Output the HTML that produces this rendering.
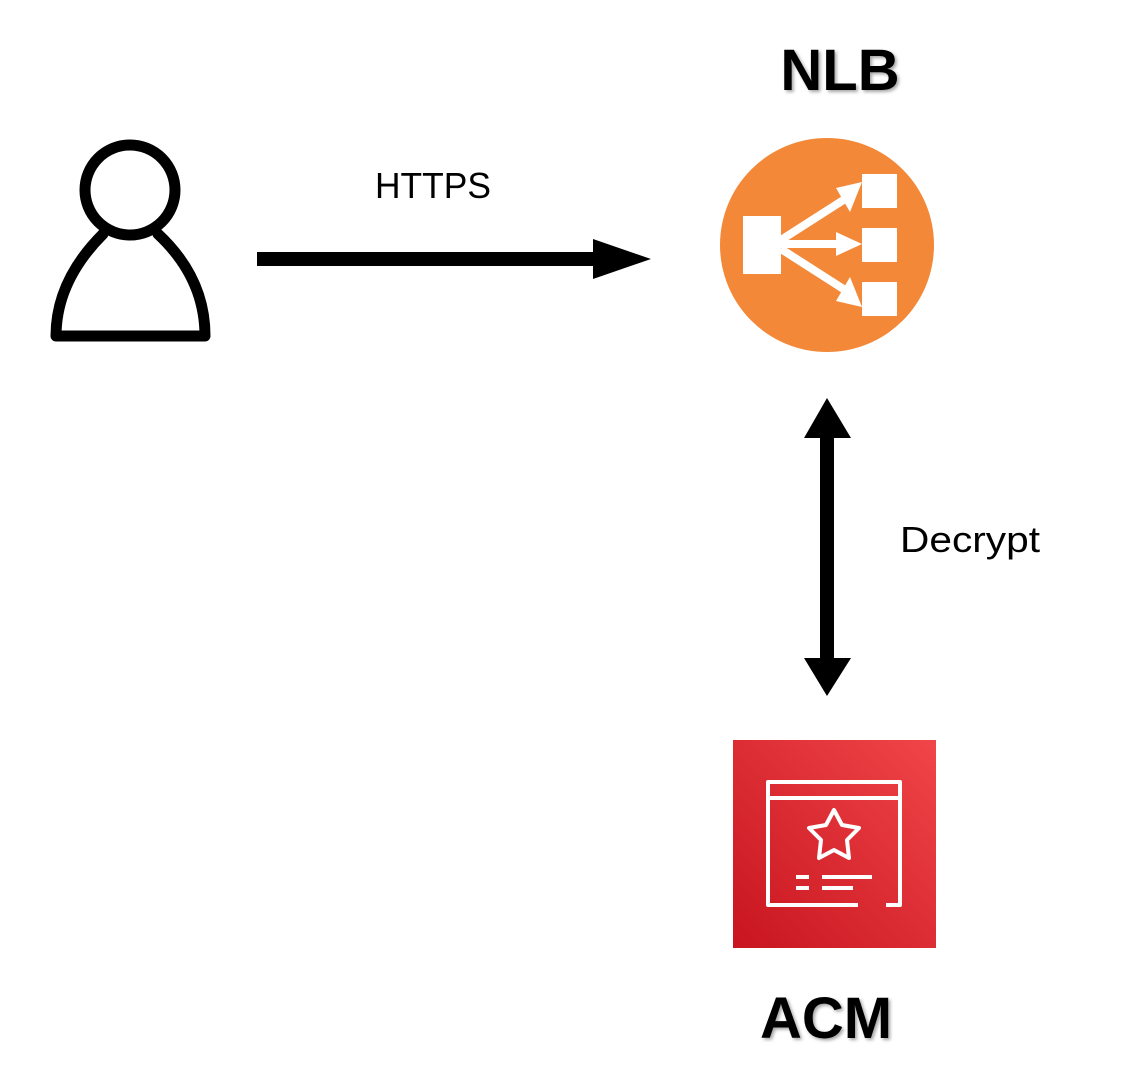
<!DOCTYPE html>
<html><head><meta charset="utf-8"><style>
html,body{margin:0;padding:0;background:#fff;}
svg{display:block;}
text{font-family:"Liberation Sans",sans-serif;}
</style></head><body>
<svg width="1131" height="1091" viewBox="0 0 1131 1091" xmlns="http://www.w3.org/2000/svg">
<defs>
<linearGradient id="g" x1="0" y1="1" x2="1" y2="0">
<stop offset="0" stop-color="#c8151f"/><stop offset="1" stop-color="#f04549"/>
</linearGradient>
<filter id="sh"><feDropShadow dx="2" dy="2" stdDeviation="1.5" flood-color="#000" flood-opacity="0.35"/></filter>
</defs>
<!-- person -->
<circle cx="130" cy="190" r="45" fill="none" stroke="#000" stroke-width="11"/>
<path d="M103,234 C75,262 56,296 56,336 L205,336 C205,296 188,262 158,234" fill="none" stroke="#000" stroke-width="11" stroke-linejoin="round" stroke-linecap="round"/>
<!-- HTTPS arrow -->
<rect x="257" y="252" width="340" height="14" fill="#000"/>
<polygon points="593,239 651,259 593,279" fill="#000"/>
<text x="433" y="198" font-size="36" text-anchor="middle" textLength="116" lengthAdjust="spacingAndGlyphs">HTTPS</text>
<!-- NLB -->
<text x="840" y="90" font-size="58" font-weight="bold" text-anchor="middle" filter="url(#sh)">NLB</text>
<circle cx="827" cy="245" r="107" fill="#f38838"/>
<rect x="743" y="216" width="38" height="58" fill="#fff"/>
<rect x="862" y="174" width="35" height="34" fill="#fff"/>
<rect x="862" y="228" width="35" height="34" fill="#fff"/>
<rect x="862" y="282" width="35" height="34" fill="#fff"/>
<g stroke="#fff" stroke-width="8" fill="none">
<line x1="781" y1="240" x2="845" y2="199"/>
<line x1="781" y1="244" x2="845" y2="244"/>
<line x1="781" y1="249" x2="845" y2="290"/>
</g>
<polygon points="836,188 862,182 850,212" fill="#fff"/>
<polygon points="836,232 862,244 836,256" fill="#fff"/>
<polygon points="836,301 862,307 850,277" fill="#fff"/>
<!-- vertical arrow -->
<rect x="820" y="432" width="14" height="232" fill="#000"/>
<polygon points="827,398 851,438 804,438" fill="#000"/>
<polygon points="827,696 851,658 804,658" fill="#000"/>
<text x="900" y="552" font-size="36" textLength="140" lengthAdjust="spacingAndGlyphs">Decrypt</text>
<!-- ACM -->
<rect x="733" y="740" width="203" height="208" fill="url(#g)"/>
<g stroke="#fff" stroke-width="4" fill="none" stroke-linejoin="round">
<path d="M858,905 L768,905 L768,782 L900,782 L900,905 L886,905"/>
<line x1="768" y1="798" x2="900" y2="798"/>
<path d="M834,810 L842,825 L859,828 L847,840 L849,858 L834,850 L819,858 L821,840 L809,828 L826,825 Z"/>
<line x1="796" y1="877" x2="809" y2="877"/>
<line x1="822" y1="877" x2="872" y2="877"/>
<line x1="796" y1="888" x2="809" y2="888"/>
<line x1="822" y1="888" x2="853" y2="888"/>
</g>
<text x="826" y="1038" font-size="58" font-weight="bold" text-anchor="middle" filter="url(#sh)">ACM</text>
</svg>
</body></html>
